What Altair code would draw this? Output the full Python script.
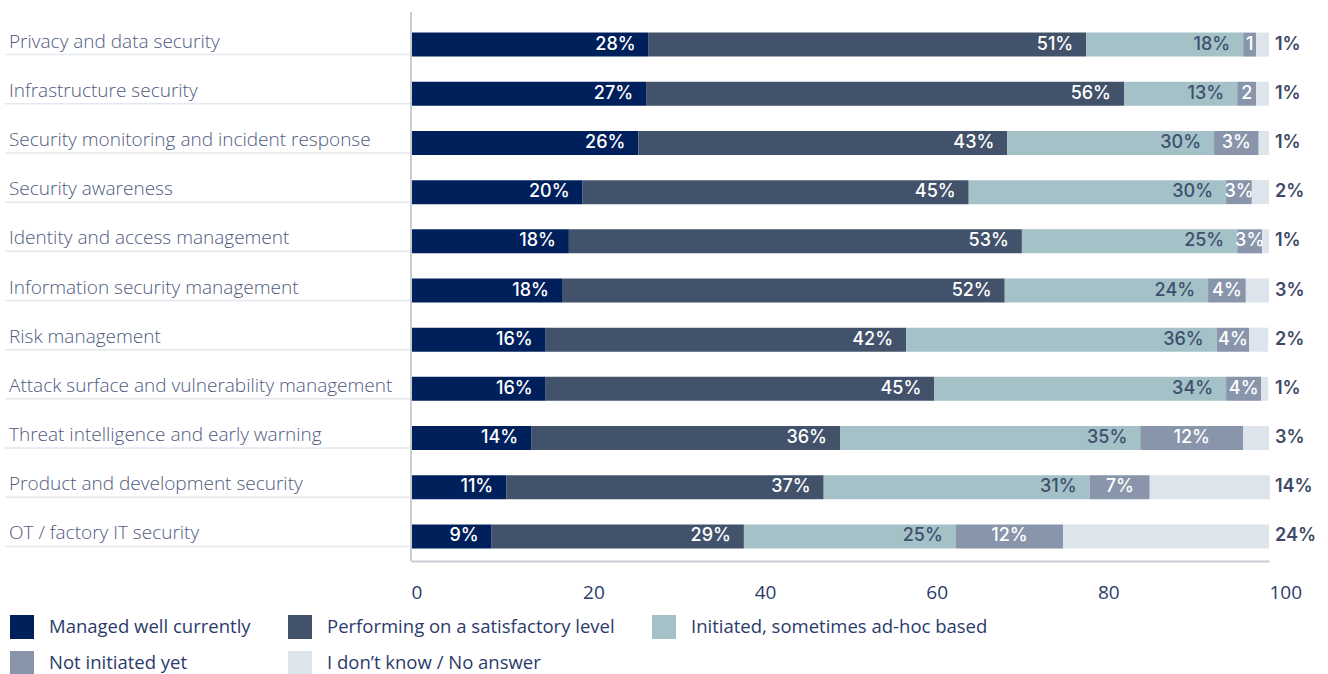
import altair as alt
import pandas as pd

categories = [
    "Privacy and data security",
    "Infrastructure security",
    "Security monitoring and incident response",
    "Security awareness",
    "Identity and access management",
    "Information security management",
    "Risk management",
    "Attack surface and vulnerability management",
    "Threat intelligence and early warning",
    "Product and development security",
    "OT / factory IT security",
]

series = [
    "Managed well currently",
    "Performing on a satisfactory level",
    "Initiated, sometimes ad-hoc based",
    "Not initiated yet",
    "I don’t know / No answer",
]
colors = ["#00205b", "#42526b", "#a3c1c6", "#8895ab", "#dde4ec"]

# bar lengths
managed = [27.7, 27.4, 26.5, 20.0, 18.4, 17.6, 15.7, 15.7, 14.0, 11.1, 9.4]
performing = [51.0, 55.7, 43.0, 45.0, 52.8, 51.6, 42.0, 45.3, 36.0, 37.0, 29.4]
initiated = [18.3, 13.2, 24.1, 30.0, 25.1, 23.7, 36.2, 34.0, 35.0, 31.0, 24.7]
not_initiated = [1.5, 2.2, 5.2, 3.0, 2.9, 4.4, 3.8, 4.1, 12.0, 7.0, 12.5]
dont_know = [1.5, 1.5, 1.2, 2.0, 0.8, 2.7, 2.2, 0.8, 3.0, 14.0, 24.0]

# printed labels
managed_lbl = ["28%", "27%", "26%", "20%", "18%", "18%", "16%", "16%", "14%", "11%", "9%"]
performing_lbl = ["51%", "56%", "43%", "45%", "53%", "52%", "42%", "45%", "36%", "37%", "29%"]
initiated_lbl = ["18%", "13%", "30%", "30%", "25%", "24%", "36%", "34%", "35%", "31%", "25%"]
not_initiated_lbl = ["1", "2", "3%", "3%", "3%", "4%", "4%", "4%", "12%", "7%", "12%"]
dont_know_lbl = ["1%", "1%", "1%", "2%", "1%", "3%", "2%", "1%", "3%", "14%", "24%"]

x_ticks = [0, 20, 40, 60, 80, 100]

vals = [managed, performing, initiated, not_initiated, dont_know]
lbls = [managed_lbl, performing_lbl, initiated_lbl, not_initiated_lbl, dont_know_lbl]
rows = []
for si, s in enumerate(series):
    for ci, c in enumerate(categories):
        rows.append({"category": c, "series": s, "order": si,
                     "value": vals[si][ci], "label": lbls[si][ci]})
df = pd.DataFrame(rows)

W, H = 858, 541
LABEL_FONT = "Open Sans"
VALUE_FONT = "Inter"

yenc = alt.Y("category:N", sort=categories, axis=None,
             scale=alt.Scale(paddingInner=0, paddingOuter=0))

base = alt.Chart(df).transform_stack(
    stack="value", groupby=["category"], sort=[alt.SortField("order")], as_=["x0", "x1"]
)

bars = base.mark_bar(size=24).encode(
    y=yenc,
    x=alt.X("x0:Q", scale=alt.Scale(domain=[0, 100], nice=False),
            axis=alt.Axis(values=x_ticks, title=None, grid=False, ticks=False,
                          domain=True, domainColor="#c9cdd3", domainWidth=2,
                          labelAlign="left", labelFontSize=19, labelColor="#2b3b6b",
                          labelFont=LABEL_FONT, labelPadding=22)),
    x2="x1:Q",
    color=alt.Color("series:N", scale=alt.Scale(domain=series, range=colors),
                    legend=alt.Legend(orient="none", legendX=-401, legendY=595,
                                      columns=3, direction="horizontal",
                                      title=None, symbolType="square",
                                      symbolSize=576, symbolStrokeWidth=0,
                                      symbolOpacity=1,
                                      labelFontSize=18.5, labelColor="#2b3b6b",
                                      labelFont=LABEL_FONT, labelLimit=400,
                                      labelOffset=15, rowPadding=12,
                                      columnPadding=37)),
)

txt_main = base.transform_filter(
    alt.FieldOneOfPredicate(field="series", oneOf=series[:3])
).mark_text(align="right", baseline="middle", dx=-13, font=VALUE_FONT,
            fontSize=18, fontWeight=500).encode(
    y=yenc, x="x1:Q", text="label:N",
    color=alt.condition(alt.datum.series == series[2],
                        alt.value("#3f4f6e"), alt.value("white")),
)

txt_ni = base.transform_filter(
    alt.datum.series == series[3]
).transform_calculate(xm="(datum.x0 + datum.x1) / 2").mark_text(
    align="center", baseline="middle", font=VALUE_FONT, fontSize=18,
    fontWeight=500, color="white").encode(y=yenc, x="xm:Q", text="label:N")

txt_dk = alt.Chart(df).transform_filter(
    alt.datum.series == series[4]
).mark_text(align="left", baseline="middle", dx=6, font=VALUE_FONT,
            fontSize=18, fontWeight=600, color="#3d4a66").encode(
    y=yenc, x=alt.value(W), text="label:N")

cat_df = pd.DataFrame({"category": categories})
cat_text = alt.Chart(cat_df).mark_text(
    align="left", baseline="alphabetic", dy=3, font=LABEL_FONT, fontSize=19,
    fontWeight=300, color="#4f5a80").encode(
    y=yenc, x=alt.value(-402), text="category:N")

underline = alt.Chart(cat_df).mark_rule(yOffset=10, color="#e3e8ef",
                                        strokeWidth=1.5).encode(
    y=yenc, x=alt.value(-406), x2=alt.value(0))

vline = alt.Chart(pd.DataFrame({"a": [0]})).mark_rule(
    color="#c9cdd3", strokeWidth=2).encode(
    x=alt.value(0), y=alt.value(-8), y2=alt.value(H))

chart = alt.layer(underline, bars, txt_main, txt_ni, txt_dk, cat_text, vline).properties(
    width=W, height=H,
    padding={"left": 411, "top": 20, "right": 59, "bottom": 113},
    autosize=alt.AutoSizeParams(type="none"),
).configure_view(stroke=None)

chart.save("out.html", embed_options={"renderer": "svg", "actions": False})
